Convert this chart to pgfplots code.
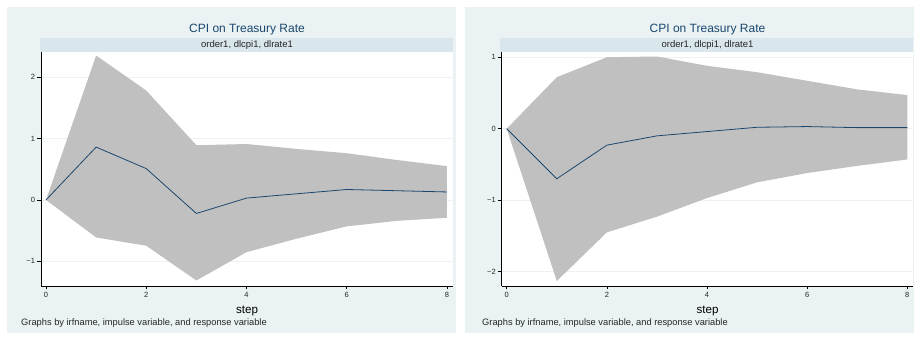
\documentclass[border=0pt]{standalone}
\usepackage{fontspec}
\setmainfont{Liberation Sans}
\usepackage{pgfplots}
\pgfplotsset{compat=1.18}
\definecolor{panelbg}{HTML}{EAF2F3}
\definecolor{stripbg}{HTML}{D9E6EB}
\definecolor{stnavy}{HTML}{1A476F}
\definecolor{shade}{HTML}{C0C0C0}
\definecolor{gridc}{HTML}{EAF2F3}

\pgfplotsset{
  stpanel/.style={
    scale only axis,
    width=412pt, height=234pt,
    xmin=-0.1, xmax=8.12,
    axis x line*=bottom, axis y line*=left,
    axis line style={black, line width=0.8pt},
    axis background/.style={fill=white},
    xtick={0,2,4,6,8},
    tick align=outside,
    major tick length=3.5pt,
    tick style={black, line width=0.6pt},
    ymajorgrids, xmajorgrids=false,
    grid style={gridc, line width=0.8pt},
    tick label style={font=\fontsize{7.5}{9}\selectfont, text=black!85},
    xticklabel style={yshift=1pt},
    yticklabel style={xshift=1pt},
    /pgf/number format/assume math mode=true,
    clip=false,
  }
}

\begin{document}
\begin{tikzpicture}
\path[fill=white] (0pt,0pt) rectangle (921pt,340pt);
\fill[panelbg] (7pt,7pt) rectangle (456pt,333pt);
\fill[panelbg] (465pt,7pt) rectangle (914pt,333pt);
\fill[stripbg] (40pt,288pt) rectangle (453pt,302pt);
\fill[stripbg] (500pt,288pt) rectangle (913pt,302pt);

% left panel
\begin{axis}[stpanel, at={(41pt,54pt)}, anchor=south west,
  ymin=-1.40, ymax=2.407,
  ytick={-1,0,1,2}, yticklabels={−1,0,1,2}]
  % confidence band: upper bound 0..8, then lower bound 8..0
  \addplot[fill=shade, draw=none] coordinates {
    (0,0) (1,2.35) (2,1.78) (3,0.89) (4,0.91) (5,0.83) (6,0.76) (7,0.65) (8,0.55)
    (8,-0.29) (7,-0.34) (6,-0.43) (5,-0.63) (4,-0.85) (3,-1.31) (2,-0.745) (1,-0.61) (0,0)
  } -- cycle;
  \addplot[stnavy, line width=0.8pt] coordinates {
    (0,0) (1,0.86) (2,0.51) (3,-0.22) (4,0.03) (5,0.10) (6,0.17) (7,0.15) (8,0.13)
  };
\end{axis}

% right panel
\begin{axis}[stpanel, at={(501.7pt,54pt)}, anchor=south west, width=411.6pt,
  ymin=-2.20, ymax=1.073,
  ytick={-2,-1,0,1}, yticklabels={−2,−1,0,1}]
  \addplot[fill=shade, draw=none] coordinates {
    (0,0) (1,0.72) (2,1.00) (3,1.01) (4,0.88) (5,0.79) (6,0.67) (7,0.55) (8,0.47)
    (8,-0.43) (7,-0.52) (6,-0.62) (5,-0.75) (4,-0.97) (3,-1.23) (2,-1.45) (1,-2.13) (0,0)
  } -- cycle;
  \addplot[stnavy, line width=0.8pt] coordinates {
    (0,0) (1,-0.70) (2,-0.23) (3,-0.10) (4,-0.04) (5,0.02) (6,0.03) (7,0.015) (8,0.015)
  };
\end{axis}

% titles
\node[text=stnavy, font=\fontsize{12}{14}\selectfont] at (247pt,310pt) {CPI on Treasury Rate};
\node[text=stnavy, font=\fontsize{12}{14}\selectfont] at (707.5pt,310pt) {CPI on Treasury Rate};
\node[text=black!85, font=\fontsize{9.5}{11}\selectfont] at (247pt,295pt) {order1, dlcpi1, dlrate1};
\node[text=black!85, font=\fontsize{9.5}{11}\selectfont] at (707.5pt,295pt) {order1, dlcpi1, dlrate1};
% x labels
\node[text=black, font=\fontsize{11.6}{13}\selectfont] at (247pt,29pt) {step};
\node[text=black, font=\fontsize{11.6}{13}\selectfont] at (707.5pt,29pt) {step};
% notes
\node[anchor=west, inner sep=0pt, text=black!85, font=\fontsize{9.3}{11}\selectfont] at (21pt,17pt) {Graphs by irfname, impulse variable, and response variable};
\node[anchor=west, inner sep=0pt, text=black!85, font=\fontsize{9.3}{11}\selectfont] at (482pt,17pt) {Graphs by irfname, impulse variable, and response variable};
\end{tikzpicture}
\end{document}
